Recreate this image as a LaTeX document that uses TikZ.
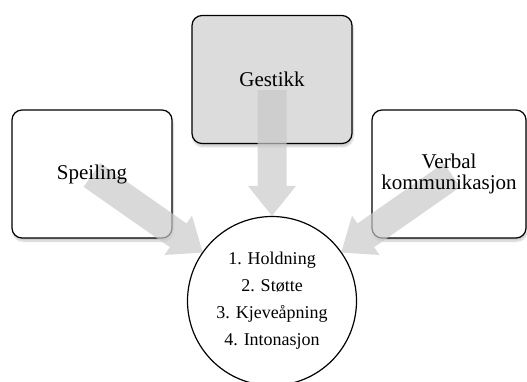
\documentclass[tikz,border=0pt]{standalone}
\usepackage{fontspec}
\setmainfont{Liberation Serif}
\usetikzlibrary{calc,shadows.blur}

\pgfdeclarelayer{arrowlayer}
\pgfdeclarelayer{textlayer}
\pgfsetlayers{main,arrowlayer,textlayer}

\definecolor{boxgray}{RGB}{220,220,220}
\definecolor{arrowgray}{RGB}{201,201,201}

\tikzset{
  card/.style={draw=black, line width=1.2pt, rounded corners=10pt,
    minimum width=160pt, minimum height=128pt, inner sep=0pt,
    blur shadow={shadow xshift=1pt, shadow yshift=-3pt,
      shadow blur steps=8, shadow opacity=22}},
  cardtext/.style={font=\fontsize{21}{21}\selectfont, align=center, inner sep=0pt},
  hubnode/.style={circle, draw=black, line width=1.2pt, fill=white,
    minimum size=169pt, inner sep=0pt, align=center,
    font=\fontsize{18}{27}\selectfont},
  fatfill/.style={fill=arrowgray, fill opacity=0.69}
}

% broad block arrow from #1 to the tip #2
\newcommand\fatarrow[2]{%
  \coordinate (hb) at ($(#2)!30pt!(#1)$);
  \fill[fatfill]
    ($(#1)!14.5pt!90:(#2)$) -- ($(hb)!14.5pt!-90:(#1)$) --
    ($(hb)!24pt!-90:(#1)$) -- (#2) -- ($(hb)!24pt!90:(#1)$) --
    ($(hb)!14.5pt!90:(#1)$) -- ($(#1)!14.5pt!-90:(#2)$) -- cycle;
}

\begin{document}
\begin{tikzpicture}[x=1pt,y=-1pt]
  \useasboundingbox (0,0) rectangle (527,381);

  % the three source cards
  \node[card, fill=boxgray] (gest) at (272,79.5) {};
  \node[card, fill=white] (spei) at (92,174) {};
  \node[card, fill=white, minimum width=154pt] (verb) at (449,174) {};

  % centre circle and all labels above the arrows
  \begin{pgfonlayer}{textlayer}
    \node[hubnode] (hub) at (272,301)
      {1. Holdning\\2. Støtte\\3. Kjeveåpning\\4. Intonasjon};
    \node[cardtext] (gest-t) at (gest) {Gestikk};
    \node[cardtext] (spei-t) at (spei) {Speiling};
    \node[cardtext] (verb-t) at (verb) {Verbal\\kommunikasjon};
  \end{pgfonlayer}

  % arrow ends
  \coordinate (gest-a) at (272,90);
  \coordinate (spei-a) at (92,175);
  \coordinate (verb-a) at (452,175);
  \coordinate (gest-b) at (hub.north);
  \coordinate (spei-b) at ($(hub.center)!84.5pt!(spei-a)$);
  \coordinate (verb-b) at ($(hub.center)!84.5pt!(verb-a)$);

  \begin{pgfonlayer}{arrowlayer}
    \fatarrow{gest-a}{gest-b}
    \fatarrow{spei-a}{spei-b}
    \fatarrow{verb-a}{verb-b}
  \end{pgfonlayer}
\end{tikzpicture}
\end{document}
